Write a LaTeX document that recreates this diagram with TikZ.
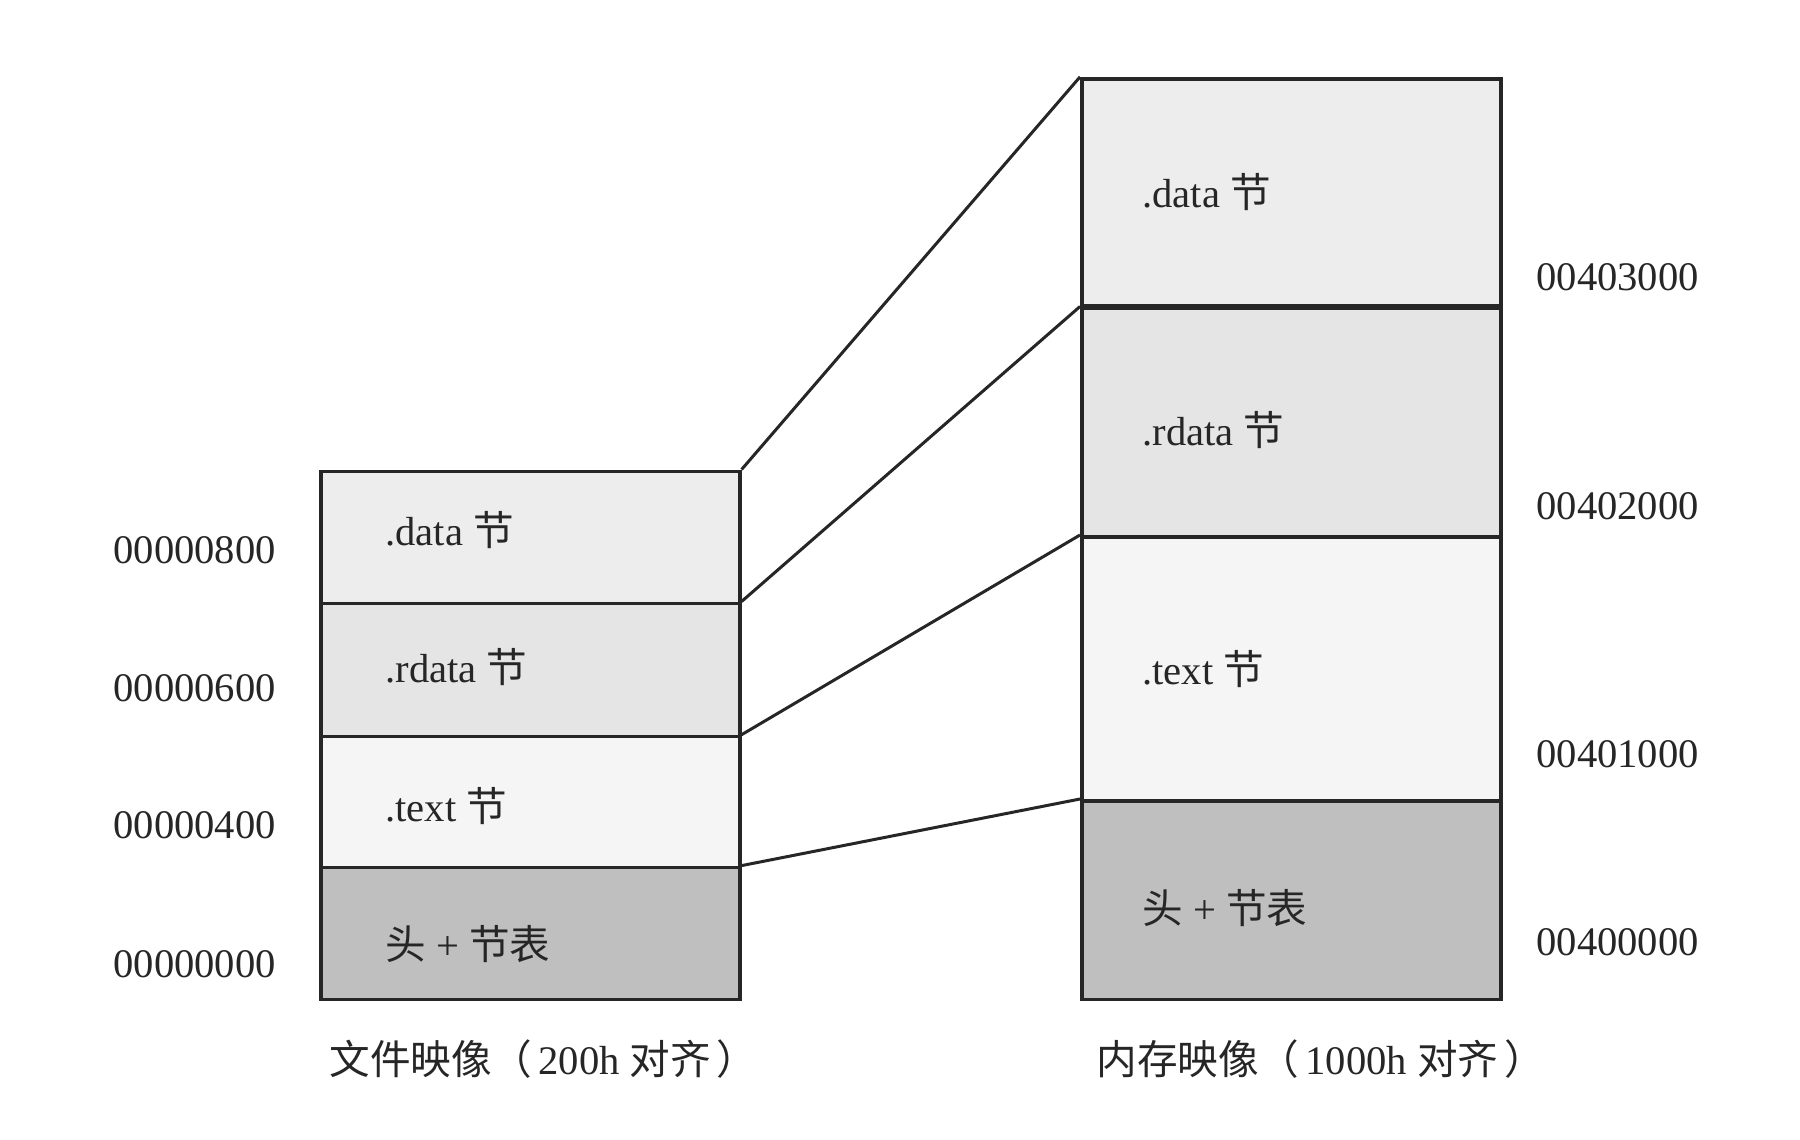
\documentclass[tikz,border=0pt]{standalone}
\usepackage{fontspec}
\setmainfont{Liberation Serif}
\newfontfamily\cjk{Noto Sans CJK SC}
\begin{document}
\begin{tikzpicture}[x=0.5pt,y=-0.5pt,
  seg/.style={draw=black!85,line width=1.8pt,rectangle,inner sep=0pt,anchor=north west,minimum width=419*0.5pt},
  lbl/.style={inner sep=0pt,anchor=west,font=\fontsize{20.3}{24}\selectfont,text=black!85},
  link/.style={draw=black!85,line width=1.5pt}]
\useasboundingbox (0,0) rectangle (1800,1140);
% left stack (file image)
\node[seg,fill=black!7, minimum height=132*0.5pt] (ld) at (319,469.5) {};
\node[seg,fill=black!10,minimum height=133*0.5pt] (lr) at (319,601.5) {};
\node[seg,fill=black!4, minimum height=131*0.5pt] (lt) at (319,734.7) {};
\node[seg,fill=black!25,minimum height=132*0.5pt] (lh) at (319,865.6) {};
% right stack (memory image)
\node[seg,fill=black!7, minimum height=229.6*0.5pt] (rd) at (1080,76.9) {};
\node[seg,fill=black!10,minimum height=228.5*0.5pt] (rr) at (1080,306.5) {};
\node[seg,fill=black!4, minimum height=264*0.5pt] (rt) at (1080,535) {};
\node[seg,fill=black!25,minimum height=198.6*0.5pt] (rh) at (1080,799) {};
\draw[draw=black!85,line width=2.8pt] (rr.north west) -- (rr.north east);
% box labels
\node[lbl] (ldl) at (385,530) {.data {\cjk 节}};
\node[lbl] (lrl) at (385,667) {.rdata {\cjk 节}};
\node[lbl] (ltl) at (385,806) {.text {\cjk 节}};
\node[lbl] (lhl) at (385,944) {{\cjk 头} + {\cjk 节表}};
\node[lbl] (rdl) at (1142,192) {.data {\cjk 节}};
\node[lbl] (rrl) at (1142,430) {.rdata {\cjk 节}};
\node[lbl] (rtl) at (1142,669) {.text {\cjk 节}};
\node[lbl] (rhl) at (1142,908) {{\cjk 头} + {\cjk 节表}};
% addresses
\node[lbl] (a1) at (113,550) {00000800};
\node[lbl] (a2) at (113,688) {00000600};
\node[lbl] (a3) at (113,825) {00000400};
\node[lbl] (a4) at (113,964) {00000000};
\node[lbl] (b1) at (1536,277) {00403000};
\node[lbl] (b2) at (1536,506) {00402000};
\node[lbl] (b3) at (1536,754) {00401000};
\node[lbl] (b4) at (1536,942) {00400000};
% captions
\node[lbl] (cap1) at (329,1059) {{\cjk 文件映像（}\kern3pt 200h {\cjk 对齐\kern3pt ）}};
\node[lbl] (cap2) at (1096,1059) {{\cjk 内存映像（}\kern3pt 1000h {\cjk 对齐\kern3pt ）}};
% connectors
\draw[link] (ld.north east) -- (rd.north west);
\draw[link] (lr.north east) -- (rr.north west);
\draw[link] (lt.north east) -- (rt.north west);
\draw[link] (lh.north east) -- (rh.north west);
\end{tikzpicture}
\end{document}
